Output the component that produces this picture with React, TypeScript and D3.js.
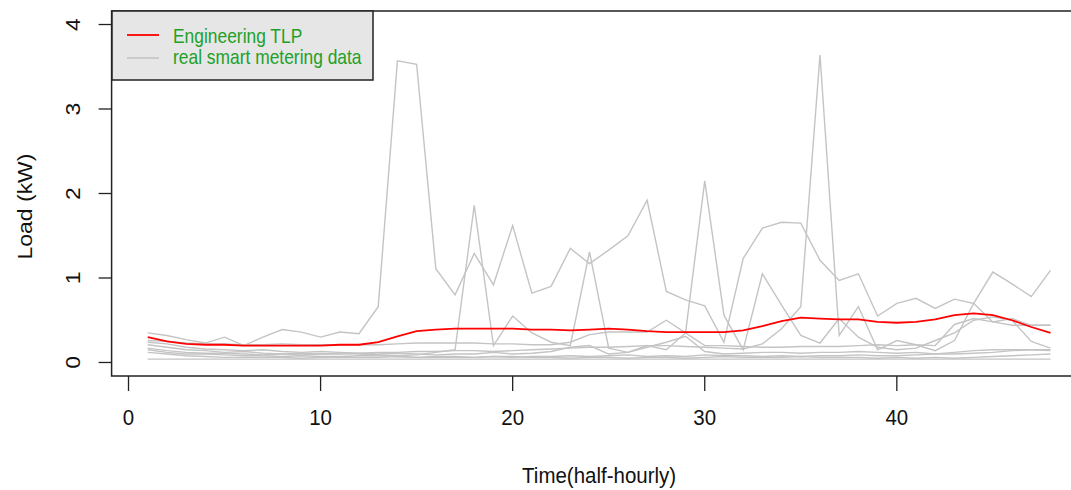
import React from "react";
import * as d3 from "d3";

// Half-hourly periods 1..48
const periods: number[] = d3.range(1, 49);

// Engineering typical load profile (kW)
const tlp: number[] = [0.30,0.25,0.22,0.21,0.21,0.20,0.20,0.20,0.20,0.20,0.21,0.21,0.24,0.31,0.37,0.39,0.40,0.40,0.40,0.40,0.39,0.39,0.38,0.39,0.40,0.39,0.37,0.36,0.36,0.36,0.36,0.38,0.43,0.49,0.53,0.52,0.51,0.51,0.48,0.47,0.48,0.51,0.56,0.58,0.56,0.50,0.42,0.35];

// Smart-meter households (kW)
const meterA: number[] = [0.35,0.32,0.27,0.23,0.30,0.20,0.30,0.39,0.36,0.30,0.36,0.34,0.66,3.57,3.53,1.11,0.80,1.29,0.92,1.62,0.82,0.90,1.35,1.17,1.33,1.50,1.92,0.84,0.74,0.67,0.24,1.23,1.59,1.66,1.65,1.21,0.97,1.05,0.55,0.70,0.76,0.64,0.75,0.70,1.07,0.93,0.78,1.09];
const meterB: number[] = [0.17,0.14,0.12,0.11,0.11,0.10,0.09,0.10,0.11,0.10,0.10,0.11,0.12,0.12,0.13,0.13,0.14,0.14,0.13,0.14,0.15,0.16,0.17,0.18,0.18,0.19,0.20,0.20,0.19,0.18,0.17,0.16,0.22,0.40,0.66,3.64,0.32,0.66,0.15,0.26,0.21,0.14,0.26,0.70,0.48,0.52,0.44,0.44];
const meterC: number[] = [0.21,0.18,0.15,0.14,0.12,0.13,0.11,0.10,0.09,0.10,0.11,0.10,0.09,0.08,0.09,0.12,0.15,1.86,0.20,0.55,0.35,0.24,0.20,1.31,0.17,0.12,0.18,0.24,0.31,0.13,0.10,0.11,0.12,0.12,0.11,0.12,0.12,0.13,0.12,0.11,0.12,0.10,0.10,0.11,0.12,0.14,0.15,0.15];
const meterD: number[] = [0.24,0.22,0.18,0.16,0.15,0.14,0.15,0.13,0.12,0.13,0.12,0.11,0.10,0.11,0.10,0.09,0.10,0.10,0.12,0.10,0.11,0.13,0.18,0.20,0.10,0.12,0.20,0.15,0.35,2.15,0.56,0.15,1.05,0.68,0.32,0.23,0.52,0.30,0.18,0.15,0.17,0.26,0.35,0.50,0.54,0.50,0.25,0.17];
const meterE: number[] = [0.26,0.25,0.23,0.22,0.22,0.21,0.21,0.22,0.21,0.21,0.21,0.21,0.21,0.22,0.23,0.23,0.23,0.23,0.22,0.22,0.21,0.21,0.24,0.33,0.36,0.36,0.36,0.50,0.35,0.20,0.20,0.19,0.18,0.18,0.19,0.19,0.19,0.20,0.21,0.20,0.21,0.20,0.45,0.52,0.48,0.44,0.44,0.44];
const meterF: number[] = [0.15,0.12,0.10,0.10,0.09,0.08,0.08,0.07,0.08,0.07,0.07,0.08,0.08,0.07,0.06,0.07,0.07,0.06,0.07,0.06,0.07,0.07,0.08,0.07,0.08,0.09,0.07,0.08,0.07,0.09,0.08,0.08,0.07,0.08,0.07,0.08,0.08,0.09,0.08,0.08,0.09,0.10,0.12,0.14,0.15,0.15,0.15,0.14];
const meterG: number[] = [0.12,0.10,0.08,0.07,0.06,0.06,0.06,0.06,0.05,0.06,0.06,0.06,0.06,0.07,0.06,0.06,0.06,0.06,0.07,0.07,0.06,0.06,0.05,0.06,0.06,0.05,0.06,0.06,0.05,0.06,0.07,0.06,0.06,0.06,0.07,0.06,0.06,0.06,0.05,0.06,0.05,0.06,0.05,0.06,0.07,0.08,0.09,0.10];
const meterH: number[] = [0.04,0.04,0.04,0.04,0.04,0.04,0.04,0.04,0.04,0.04,0.04,0.04,0.04,0.04,0.04,0.04,0.04,0.04,0.04,0.04,0.04,0.04,0.04,0.04,0.04,0.04,0.04,0.04,0.04,0.04,0.04,0.04,0.04,0.04,0.04,0.04,0.04,0.04,0.04,0.04,0.04,0.04,0.04,0.04,0.04,0.04,0.04,0.04];

const meters: number[][] = [meterA, meterB, meterC, meterD, meterE, meterF, meterG, meterH];

const xTicks: number[] = [0, 10, 20, 30, 40];
const yTicks: number[] = [0, 1, 2, 3, 4];
const legendLabels: string[] = ["Engineering TLP", "real smart metering data"];

const W = 1071;
const H = 490;
const FONT = "'Liberation Sans', Arial, sans-serif";
const STRETCH = 1.12;

export default function App() {
  const x = d3.scaleLinear().domain([-0.88, 49.88]).range([111.6, 1086.6]);
  const y = d3.scaleLinear().domain([-0.16, 4.16]).range([376, 11]);

  const line = d3
    .line<number>()
    .x((_, i) => x(periods[i]))
    .y((v) => y(v));

  const left = x.range()[0];
  const right = x.range()[1];
  const top = y.range()[1];
  const bottom = y.range()[0];

  return (
    <svg
      width={W}
      height={H}
      style={{ position: "absolute", left: 0, top: 0, display: "block", background: "#fff" }}
    >
      <rect x={0} y={0} width={W} height={H} fill="#fff" />

      {/* household series */}
      <g fill="none" stroke="#c4c4c4" strokeWidth={1.4}>
        {meters.map((s, k) => (
          <path key={k} d={line(s) || ""} />
        ))}
      </g>

      {/* typical load profile */}
      <path d={line(tlp) || ""} fill="none" stroke="#ff0000" strokeWidth={1.8} />

      {/* frame */}
      <rect
        x={left}
        y={top}
        width={right - left}
        height={bottom - top}
        fill="none"
        stroke="#222"
        strokeWidth={1.5}
      />

      {/* x axis */}
      <g stroke="#222" strokeWidth={1.3}>
        {xTicks.map((t) => (
          <line key={t} x1={x(t)} x2={x(t)} y1={bottom} y2={bottom + 15} />
        ))}
      </g>
      {xTicks.map((t) => (
        <text
          key={t}
          transform={`translate(${x(t)},425) scale(1,${STRETCH})`}
          textAnchor="middle"
          fontFamily={FONT}
          fontSize={20.5}
          fill="#111"
        >
          {t}
        </text>
      ))}
      <text
        transform={`translate(${(left + right) / 2},483) scale(1,${STRETCH})`}
        textAnchor="middle"
        fontFamily={FONT}
        fontSize={20.5}
        fill="#111"
      >
        Time(half-hourly)
      </text>

      {/* y axis */}
      <g stroke="#222" strokeWidth={1.3}>
        {yTicks.map((t) => (
          <line key={t} x1={left - 13} x2={left} y1={y(t)} y2={y(t)} />
        ))}
      </g>
      {yTicks.map((t) => (
        <text
          key={t}
          transform={`translate(80,${y(t)}) scale(1,${STRETCH}) rotate(-90)`}
          textAnchor="middle"
          fontFamily={FONT}
          fontSize={20.5}
          fill="#111"
        >
          {t}
        </text>
      ))}
      <text
        transform={`translate(32,${(top + bottom) / 2 + 13}) scale(1,${STRETCH}) rotate(-90)`}
        textAnchor="middle"
        fontFamily={FONT}
        fontSize={20.5}
        fill="#111"
      >
        Load (kW)
      </text>

      {/* legend */}
      <rect x={112} y={top} width={261} height={69} fill="#e6e6e6" stroke="#222" strokeWidth={1.5} />
      <line x1={127} x2={159} y1={35} y2={35} stroke="#ff0000" strokeWidth={1.8} />
      <line x1={127} x2={159} y1={58} y2={58} stroke="#c4c4c4" strokeWidth={1.6} />
      <text
        transform={`translate(173,43) scale(1,${STRETCH})`}
        fontFamily={FONT}
        fontSize={17.4}
        fill="#22a028"
      >
        {legendLabels[0]}
      </text>
      <text
        transform={`translate(173,64) scale(1,${STRETCH})`}
        fontFamily={FONT}
        fontSize={17.4}
        fill="#22a028"
      >
        {legendLabels[1]}
      </text>
    </svg>
  );
}
